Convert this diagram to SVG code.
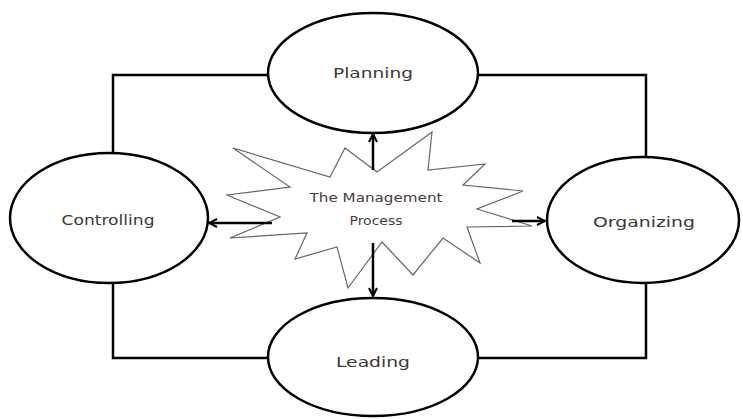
<svg xmlns="http://www.w3.org/2000/svg" width="743" height="419" viewBox="0 0 743 419">
  <defs>
    <style>
      .node { fill: #ffffff; stroke: #000000; stroke-width: 2.5; }
      .conn { fill: none; stroke: #000000; stroke-width: 2.5; }
      .arrow { fill: none; stroke: #000000; stroke-width: 2.5; marker-end: url(#ah); }
      .label { font-family: "DejaVu Sans", "Liberation Sans", sans-serif; font-size: 14px; fill: #3a3a3a; text-anchor: middle; }
      .star { fill: #ffffff; stroke: #666666; stroke-width: 1.2; stroke-linejoin: miter; }
      .slabel { font-family: "DejaVu Sans", "Liberation Sans", sans-serif; font-size: 12.5px; fill: #4a3a42; text-anchor: middle; }
    </style>
    <marker id="ah" viewBox="0 0 10 10" refX="9" refY="5" markerWidth="4" markerHeight="4" orient="auto" markerUnits="strokeWidth">
      <path d="M1,1 L9,5 L1,9" fill="none" stroke="#000" stroke-width="2"/>
    </marker>
  </defs>
  <rect width="743" height="419" fill="#ffffff"/>

  <g id="connectors">
    <polyline class="conn" points="268,75 113,75 113,153"/>
    <polyline class="conn" points="478,75 646,75 646,157"/>
    <polyline class="conn" points="113,283 113,358 268,358"/>
    <polyline class="conn" points="646,283 646,358 478,358"/>
  </g>

  <g id="management-process">
    <polygon class="star" points="233,148 330,177 345,148 377,172 432,132 428,170 485,164 463,185 523,191 477,209 532,226 467,227 480,263 443,238 413,275 382,242 348,288 337,247 295,259 307,233 230,238 280,217 227,195 290,187"/>
    <text class="slabel" x="376" y="202" textLength="133" lengthAdjust="spacingAndGlyphs">The Management</text>
    <text class="slabel" x="376" y="225" textLength="53" lengthAdjust="spacingAndGlyphs">Process</text>
  </g>

  <g id="arrows">
    <line class="arrow" x1="373" y1="170" x2="373" y2="134"/>
    <line class="arrow" x1="373" y1="243" x2="373" y2="296"/>
    <line class="arrow" x1="272" y1="223" x2="209" y2="223"/>
    <line class="arrow" x1="512" y1="221" x2="545" y2="221"/>
  </g>

  <g id="planning">
    <ellipse class="node" cx="373" cy="73" rx="105" ry="60"/>
    <text class="label" x="373" y="78" textLength="80" lengthAdjust="spacingAndGlyphs">Planning</text>
  </g>

  <g id="controlling">
    <ellipse class="node" cx="109" cy="218" rx="99" ry="65"/>
    <text class="label" x="108" y="225" textLength="93" lengthAdjust="spacingAndGlyphs">Controlling</text>
  </g>

  <g id="organizing">
    <ellipse class="node" cx="643" cy="220" rx="96" ry="63"/>
    <text class="label" x="644" y="227" textLength="102" lengthAdjust="spacingAndGlyphs">Organizing</text>
  </g>

  <g id="leading">
    <ellipse class="node" cx="373" cy="357" rx="105" ry="59"/>
    <text class="label" x="373" y="367" textLength="74" lengthAdjust="spacingAndGlyphs">Leading</text>
  </g>
</svg>
